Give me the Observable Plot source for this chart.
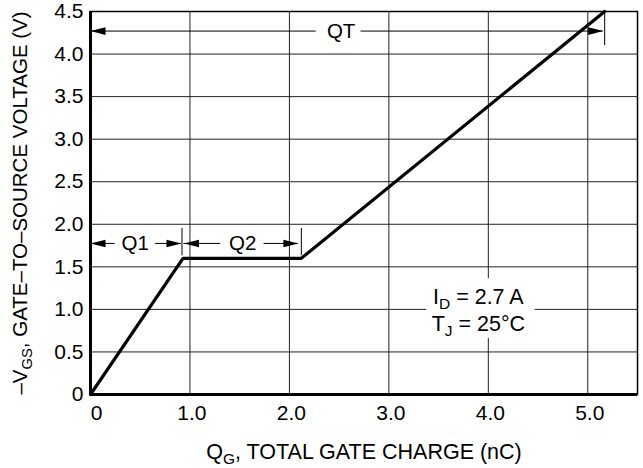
<!DOCTYPE html>
<html><head><meta charset="utf-8">
<script src="https://cdn.jsdelivr.net/npm/d3@7"></script>
<script src="https://cdn.jsdelivr.net/npm/@observablehq/plot@0.6"></script>
<style>
body{margin:0;background:#fff;}
#chart svg{display:block;}
</style></head><body><div id="chart"></div>
<script>
// curve
const qg = [0, 0.93, 2.12, 5.17];
const vgs = [0, 1.6, 1.6, 4.5];
// axes
const xTicks = [1, 2, 3, 4, 5];
const xZero = [0];
const yTicks = [0, 0.5, 1, 1.5, 2, 2.5, 3, 3.5, 4, 4.5];
const xLabel = "Q_{G}, TOTAL GATE CHARGE (nC)";
const yLabel = "–V_{GS}, GATE–TO–SOURCE VOLTAGE (V)";
// dimension annotations
const dimLabels = ["Q1", "Q2", "QT"];
const dimY = [1.775, 1.775, 4.27];
const dimStart = [0, 0.94, 0];
const dimEnd = [0.915, 2.09, 5.155];
const dimGapL = [0.25, 1.31, 2.27];
const dimGapR = [0.655, 1.745, 2.72];
const dimTextX = [0.45, 1.53, 2.52];
const tickX = [0.92, 2.12, 5.17];
const tickY1 = [1.63, 1.63, 4.1];
const tickY2 = [1.95, 1.95, 4.48];
// conditions box
const condLines = ["I_{D} = 2.7 A", "T_{J} = 25°C"];
const condX = [3.9, 3.9];
const condY = [1.066, 0.75];
const boxX = [3.38, 4.47];
const boxY = [0.66, 1.36];

const segs = [];
dimLabels.forEach((l, i) => {
  segs.push({x1: dimStart[i], x2: dimGapL[i], y: dimY[i]});
  segs.push({x1: dimGapR[i], x2: dimEnd[i], y: dimY[i]});
});
const headsR = dimLabels.map((l, i) => ({x: dimEnd[i], y: dimY[i]}));
const headsL = dimLabels.map((l, i) => ({x: dimStart[i], y: dimY[i]}));
const ticks = dimLabels.map((l, i) => ({x: tickX[i], y1: tickY1[i], y2: tickY2[i]}));
const dimText = dimLabels.map((l, i) => ({x: dimTextX[i], y: dimY[i], t: l}));
const cond = condLines.map((t, i) => ({x: condX[i], y: condY[i], t}));
const curve = qg.map((x, i) => ({x, y: vgs[i]}));

const headRight = {draw(ctx) { ctx.moveTo(0, 0); ctx.lineTo(-15, -3.8); ctx.lineTo(-15, 3.8); ctx.closePath(); }};
const headLeft = {draw(ctx) { ctx.moveTo(0, 0); ctx.lineTo(15, -3.8); ctx.lineTo(15, 3.8); ctx.closePath(); }};

const fmt = d => d.toFixed(1);

const plot = Plot.plot({
  width: 643,
  height: 468,
  marginLeft: 90,
  marginRight: 6,
  marginTop: 11,
  marginBottom: 74,
  style: {fontFamily: "'Liberation Sans', Arial, Helvetica, sans-serif", fontSize: "20px", color: "#000", background: "#fff"},
  x: {domain: [0, 5.5], label: null},
  y: {domain: [0, 4.5], label: null},
  marks: [
    Plot.gridX(xTicks, {stroke: "#222", strokeOpacity: 1, strokeWidth: 1}),
    Plot.gridY(yTicks, {stroke: "#222", strokeOpacity: 1, strokeWidth: 1}),
    Plot.rect([0], {x1: () => boxX[0], x2: () => boxX[1], y1: () => boxY[0], y2: () => boxY[1], fill: "white"}),
    Plot.axisX({ticks: xTicks, tickFormat: fmt, tickSize: 0, tickPadding: 11, fontSize: 21, dx: 2, label: null}),
    Plot.axisX({ticks: xZero, tickFormat: () => "0", tickSize: 0, tickPadding: 11, fontSize: 21, dx: 6, label: null}),
    Plot.axisY({ticks: yTicks, tickFormat: d => d === 0 ? "0" : fmt(d), tickSize: 0, tickPadding: 7, fontSize: 21, label: null}),
    Plot.line(curve, {x: "x", y: "y", stroke: "#000", strokeWidth: 3.2, strokeLinejoin: "miter"}),
    Plot.ruleY(segs, {x1: "x1", x2: "x2", y: "y", stroke: "#000", strokeWidth: 1}),
    Plot.ruleX(ticks, {x: "x", y1: "y1", y2: "y2", stroke: "#000", strokeWidth: 1}),
    Plot.dot(headsR, {x: "x", y: "y", symbol: headRight, fill: "#000", stroke: "none"}),
    Plot.dot(headsL, {x: "x", y: "y", symbol: headLeft, fill: "#000", stroke: "none"}),
    Plot.text(dimText, {x: "x", y: "y", text: "t", fontSize: 20.5, fill: "#000"}),
    Plot.text(cond, {x: "x", y: "y", text: "t", fontSize: 21.5, fill: "#000", lineAnchor: "bottom"}),
    Plot.text([xLabel], {text: d => d, frameAnchor: "bottom", textAnchor: "middle", dy: 64, lineAnchor: "bottom", fontSize: 21.5, fill: "#000"}),
    Plot.text([yLabel], {text: d => d, frameAnchor: "left", textAnchor: "middle", dx: -70, rotate: -90, fontSize: 20.5, fill: "#000"}),
    Plot.frame({stroke: "#000", strokeWidth: 1.5}),
    Plot.ruleX([0], {stroke: "#000", strokeWidth: 3}),
    Plot.ruleY([0], {stroke: "#000", strokeWidth: 3})
  ]
});

// subscripts
d3.select(plot).selectAll("text").each(function() {
  const t = this.textContent;
  if (!t.includes("_{")) return;
  const sel = d3.select(this);
  sel.text(null);
  const parts = t.split(/_\{([^}]*)\}/);
  let shifted = false;
  parts.forEach((p, i) => {
    if (!p) return;
    if (i % 2 === 1) {
      sel.append("tspan").attr("dy", 5).attr("font-size", "72%").text(p);
      shifted = true;
    } else {
      const ts = sel.append("tspan").text(p);
      if (shifted) { ts.attr("dy", -5); shifted = false; }
    }
  });
});

document.getElementById("chart").appendChild(plot);
</script>
</body></html>
